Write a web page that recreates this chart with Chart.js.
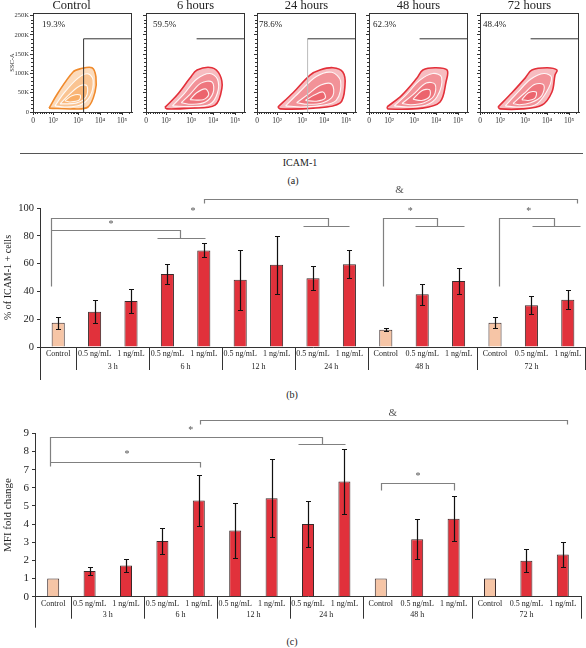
<!DOCTYPE html>
<html><head><meta charset="utf-8">
<script src="https://cdn.jsdelivr.net/npm/chart.js@4.4.1/dist/chart.umd.min.js"></script>
<style>
html,body{margin:0;padding:0;background:#fff;}
#root{position:relative;width:586px;height:648px;overflow:hidden;font-family:'Liberation Serif',serif;color:#222;}
canvas{position:absolute;}
.lbl{position:absolute;transform:translate(-50%,-50%);white-space:nowrap;line-height:1;}
.hline{position:absolute;height:0;border-top:1px solid #555;}
</style></head><body><div id="root">
<div class="hline" style="left:20px;top:153px;width:563px"></div>
<div class="lbl" style="left:300px;top:163px;font-size:10px">ICAM-1</div>
<div class="lbl" style="left:293px;top:181px;font-size:10px">(a)</div>
<div class="lbl" style="left:292px;top:395px;font-size:10px">(b)</div>
<div class="lbl" style="left:292px;top:642px;font-size:10px">(c)</div>
</div>
<script>
// ---------------- DATA ----------------
// Panel (a): flow cytometry contour plots (x: ICAM-1 decade position, y: SSC-A in K)
const flowTitles = ['Control', '6 hours', '24 hours', '48 hours', '72 hours'];
const flowPercents = ['19.3%', '59.5%', '78.6%', '62.3%', '48.4%'];
const flowXTickValues = [0, 0.91, 2.05, 3.05, 4.05];
const flowXTickLabels = ['0', '10²', '10³', '10⁴', '10⁵'];
const flowYTickValues = [0, 50, 100, 150, 200, 250];
const flowYTickLabels = ['0', '50K', '100K', '150K', '200K', '250K'];
const gateX = 2.3;
const gateY = 190;

const contoursControl = [
  [[0.73,10],[1.14,50],[1.82,104],[2.14,112],[2.68,115],[2.86,91],[2.82,52],[2.5,13],[1.82,8]],
  [[1.0,16],[1.45,52],[2.05,88],[2.5,99],[2.73,83],[2.6,42],[2.14,18],[1.45,13]],
  [[1.23,21],[1.68,47],[2.14,68],[2.45,68],[2.41,39],[1.95,23]],
  [[1.45,29],[1.77,42],[2.14,44],[2.1,31],[1.68,26]]
];
const contours6h = [
  [[0.86,12],[1.41,44],[2.0,88],[2.32,109],[3.0,115],[3.36,96],[3.45,62],[3.14,18],[2.0,10],[0.95,8]],
  [[1.2,16],[1.7,45],[2.3,85],[2.9,100],[3.25,85],[3.25,50],[2.9,20],[2.0,14]],
  [[1.6,24],[2.0,46],[2.5,75],[3.0,78],[3.05,50],[2.7,26],[2.1,20]],
  [[2.0,32],[2.3,50],[2.7,60],[2.85,45],[2.6,32]]
];
const contours24h = [
  [[0.95,13],[1.64,50],[2.41,96],[2.86,109],[3.45,115],[3.9,104],[4.0,70],[3.77,23],[2.55,10],[1.05,8]],
  [[1.3,16],[1.9,50],[2.7,92],[3.4,103],[3.8,80],[3.6,30],[2.8,16],[2.0,13]],
  [[1.8,24],[2.3,45],[2.9,70],[3.4,72],[3.45,42],[3.0,24],[2.3,20]],
  [[2.2,30],[2.6,44],[3.0,52],[3.1,36],[2.7,28]]
];
const contours48h = [
  [[0.82,13],[1.5,44],[2.18,88],[2.45,109],[3.0,115],[3.55,109],[3.5,78],[3.23,26],[2.41,10],[0.86,8]],
  [[1.15,16],[1.7,45],[2.3,82],[2.9,100],[3.3,90],[3.1,40],[2.6,18],[1.8,13]],
  [[1.5,22],[2.0,45],[2.6,75],[3.0,72],[2.95,42],[2.5,24],[1.9,19]],
  [[2.0,33],[2.4,55],[2.75,58],[2.75,40],[2.4,30]]
];
const contours72h = [
  [[0.82,13],[1.45,50],[2.05,88],[2.36,109],[3.05,115],[3.5,109],[3.41,96],[3.27,52],[2.82,18],[1.91,8],[0.91,8]],
  [[1.15,16],[1.7,50],[2.3,85],[2.9,100],[3.25,90],[3.0,50],[2.5,18],[1.7,13]],
  [[1.5,22],[2.0,48],[2.5,72],[2.9,70],[2.8,42],[2.3,24],[1.8,19]],
  [[1.9,32],[2.2,50],[2.55,52],[2.5,36],[2.2,30]]
];

// Panels (b) and (c): bar charts
const categories = ['Control','0.5 ng/mL','1 ng/mL','0.5 ng/mL','1 ng/mL','0.5 ng/mL','1 ng/mL',
  '0.5 ng/mL','1 ng/mL','Control','0.5 ng/mL','1 ng/mL','Control','0.5 ng/mL','1 ng/mL'];
const timeGroups = ['3 h','6 h','12 h','24 h','48 h','72 h'];
const timeGroupSizes = [2,2,2,2,3,3];
const icamPercent    = [17.5,25.4,33.1,52.5,69.5,48.4,59.2,49.5,59.5,12.5,38,47.5,17.5,30,34];
const icamPercentErr = [4.3,8.4,8.3,7.5,5,21.5,21,8.5,10,1.3,7.5,9.5,3.8,6.6,7];
const mfiFold        = [1,1.42,1.72,3.07,5.3,3.64,5.42,4.0,6.34,1,3.17,4.3,1,1.98,2.33];
const mfiFoldErr     = [0,0.22,0.38,0.7,1.42,1.5,2.15,1.25,1.8,0,1.1,1.22,0,0.63,0.68];

// ---------------- LAYOUT / STYLE ----------------
const FONT = "'Liberation Serif', serif";
Chart.defaults.font.family = FONT;
Chart.defaults.color = '#222';
Chart.defaults.animation = false;
const root = document.getElementById('root');
function mk(left, top, w, h) {
  const c = document.createElement('canvas');
  c.width = w; c.height = h;
  c.style.left = left + 'px'; c.style.top = top + 'px';
  c.style.width = w + 'px'; c.style.height = h + 'px';
  root.appendChild(c);
  return c;
}
const flowPlotLeft = [33, 146, 257, 369, 480];
const flowPctOffset = [9, 7, 2, 4, 3];
const flowTitleShift = [-11, 0, 0, 0, 0];
const gateVertical = ['#333', null, '#bbb', null, null];
const flowContours = [contoursControl, contours6h, contours24h, contours48h, contours72h];
const XMAX = 4.5, YMAX = 257;

const flowFramePlugin = {
  id: 'flowFrame',
  afterDraw(chart) {
    const o = chart.options.plugins.flowFrame;
    const ctx = chart.ctx, ca = chart.chartArea, xs = chart.scales.x, ys = chart.scales.y;
    ctx.save();
    ctx.strokeStyle = '#333'; ctx.lineWidth = 1;
    ctx.strokeRect(Math.round(ca.left) + 0.5, Math.round(ca.top) + 0.5, Math.round(ca.right - ca.left) - 1, Math.round(ca.bottom - ca.top));
    ctx.beginPath();
    const v = flowXTickValues;
    for (let k = 0; k < v.length; k++) {
      const a = v[k], b = (k + 1 < v.length) ? v[k + 1] : v[k] + (v[k] - v[k - 1]);
      for (let m = 2; m <= 9; m++) {
        const pos = (k === 0) ? a + (m - 1) / 9 * (b - a) : a + Math.log10(m) * (b - a);
        if (pos > XMAX) break;
        const px = Math.round(xs.getPixelForValue(pos)) + 0.5;
        ctx.moveTo(px, ca.bottom); ctx.lineTo(px, ca.bottom + 2);
      }
    }
    for (let yv = 10; yv < YMAX; yv += 10) {
      if (yv % 50 === 0) continue;
      const py = Math.round(ys.getPixelForValue(yv)) + 0.5;
      ctx.moveTo(ca.left, py); ctx.lineTo(ca.left - 2, py);
    }
    ctx.stroke();
    ctx.fillStyle = '#222';
    ctx.font = '12.5px ' + FONT; ctx.textAlign = 'center'; ctx.textBaseline = 'middle';
    ctx.fillText(o.title, (ca.left + ca.right) / 2 + o.shift, 6);
    ctx.font = '9px ' + FONT; ctx.textAlign = 'left';
    ctx.fillText(o.pct, ca.left + o.pctOff, ca.top + 12);
    ctx.restore();
  }
};

flowContours.forEach((cont, i) => {
  const L = flowPlotLeft[i], yW = i === 0 ? 33 : 6;
  const cv = mk(L - yW, 0, yW + 100, 135);
  const orange = i === 0;
  const datasets = cont.map((pts, k) => ({
    type: 'scatter',
    data: pts.concat([pts[0]]).map(p => ({ x: p[0], y: p[1] })),
    showLine: true, fill: 'shape',
    backgroundColor: orange ? 'rgba(246,160,80,0.38)' : 'rgba(232,70,80,0.36)',
    borderColor: k === 0 ? (orange ? '#f08a2c' : '#e3303a') : 'rgba(255,255,255,0.9)',
    borderWidth: k === 0 ? 1.6 : 1.1,
    pointRadius: 0, tension: 0.35, order: 10 - k
  }));
  datasets.push({ type: 'scatter', data: [{ x: gateX, y: gateY }, { x: XMAX, y: gateY }], showLine: true, fill: false,
    borderColor: '#333', borderWidth: 1, pointRadius: 0, order: 0 });
  if (gateVertical[i]) datasets.push({ type: 'scatter', data: [{ x: gateX, y: 0 }, { x: gateX, y: gateY }], showLine: true, fill: false,
    borderColor: gateVertical[i], borderWidth: 1, pointRadius: 0, order: 0 });
  new Chart(cv, {
    type: 'scatter',
    data: { datasets },
    options: {
      responsive: false, animation: false,
      layout: { padding: { top: 13, right: 1, left: 0, bottom: 0 } },
      plugins: { legend: { display: false }, tooltip: { enabled: false },
        flowFrame: { title: flowTitles[i], pct: flowPercents[i], pctOff: flowPctOffset[i], shift: flowTitleShift[i] } },
      scales: {
        x: { type: 'linear', min: 0, max: XMAX,
          afterBuildTicks: s => { s.ticks = flowXTickValues.map(v => ({ value: v })); },
          ticks: { callback: (v, idx) => flowXTickLabels[idx], font: { size: 7.5 }, color: '#333', padding: 2, maxRotation: 0, autoSkip: false },
          grid: { drawOnChartArea: false, tickLength: 3, color: '#333' }, border: { color: '#333' },
          afterFit: s => { s.height = 23; } },
        y: { type: 'linear', min: 0, max: YMAX,
          afterBuildTicks: s => { s.ticks = flowYTickValues.map(v => ({ value: v })); },
          ticks: { display: i === 0, callback: (v, idx) => flowYTickLabels[idx], font: { size: 6.5 }, color: '#333', padding: 1, autoSkip: false },
          grid: { drawOnChartArea: false, tickLength: 3, color: '#333' }, border: { color: '#333' },
          title: { display: i === 0, text: 'SSC-A', font: { size: 6.5 }, padding: { top: 8, bottom: 0 } },
          afterFit: s => { s.width = yW; } }
      }
    },
    plugins: [flowFramePlugin]
  });
});

// -------- bar charts --------
const barFill = categories.map(c => c === 'Control' ? '#f6c5a6' : '#e1313b');

const bracketsB = [
  [[4.0,103.6],[4.0,106.5],[14.25,106.5],[14.25,103.6]],
  [[-0.2,44],[-0.2,93],[7.41,93],[7.41,87.3]],
  [[6.73,87.3],[8.0,87.3]],
  [[-0.2,84.2],[3.35,84.2],[3.35,78.2]],
  [[2.71,78.2],[4.03,78.2]],
  [[8.92,44],[8.92,93],[10.41,93],[10.41,87.3]],
  [[9.8,87.3],[11.15,87.3]],
  [[12.1,44],[12.1,93],[13.62,93],[13.62,87.3]],
  [[13.02,87.3],[14.34,87.3]]
];
const marksB = [{t:'&',x:9.38,y:113},{t:'*',x:3.7,y:97.8},{t:'*',x:1.45,y:88},{t:'*',x:9.67,y:97.8},{t:'*',x:12.93,y:97.8}];
const bracketsC = [
  [[4.03,9.52],[4.03,9.74],[14.11,9.74],[14.11,9.52]],
  [[-0.09,7.2],[-0.09,8.82],[7.38,8.82],[7.38,8.4]],
  [[6.73,8.4],[8.02,8.4]],
  [[-0.09,7.44],[4.03,7.44],[4.03,7.16]],
  [[9.0,5.88],[9.0,6.25],[11.0,6.25],[11.0,5.88]]
];
const marksC = [{t:'&',x:9.33,y:10.12},{t:'*',x:3.78,y:9.18},{t:'*',x:2.03,y:7.86},{t:'*',x:10.02,y:6.65}];

function errorBarPlugin(errs) {
  return { id: 'errbars', afterDatasetsDraw(chart) {
    const ctx = chart.ctx, meta = chart.getDatasetMeta(0), ys = chart.scales.y, vals = chart.data.datasets[0].data;
    ctx.save(); ctx.strokeStyle = '#111'; ctx.lineWidth = 1.2;
    meta.data.forEach((bar, i) => {
      const e = errs[i]; if (!e) return;
      const x = Math.round(bar.x) + 0.5;
      const t = Math.round(ys.getPixelForValue(vals[i] + e)) + 0.5, b = Math.round(ys.getPixelForValue(vals[i] - e)) + 0.5;
      ctx.beginPath();
      ctx.moveTo(x, t); ctx.lineTo(x, b);
      ctx.moveTo(x - 2.5, t); ctx.lineTo(x + 2.5, t);
      ctx.moveTo(x - 2.5, b); ctx.lineTo(x + 2.5, b);
      ctx.stroke();
    });
    ctx.restore();
  } };
}
function bracketPlugin(brackets, marks) {
  return { id: 'brackets', afterDraw(chart) {
    const xs = chart.scales.x, ys = chart.scales.y, ctx = chart.ctx;
    ctx.save(); ctx.strokeStyle = '#808080'; ctx.lineWidth = 1.2;
    brackets.forEach(pts => {
      ctx.beginPath();
      pts.forEach(([i, v], k) => {
        const px = Math.round(xs.getPixelForValue(i)) + 0.5, py = Math.round(ys.getPixelForValue(v)) + 0.5;
        k ? ctx.lineTo(px, py) : ctx.moveTo(px, py);
      });
      ctx.stroke();
    });
    ctx.fillStyle = '#555'; ctx.textAlign = 'center'; ctx.textBaseline = 'middle';
    marks.forEach(m => {
      ctx.font = (m.t === '&' ? '11px ' : '10px ') + FONT;
      ctx.fillText(m.t, xs.getPixelForValue(m.x), ys.getPixelForValue(m.y));
    });
    ctx.restore();
  } };
}
function groupAxisPlugin(sepLen, extLen, labelDy) {
  return { id: 'groupAxis', afterDraw(chart) {
    const xs = chart.scales.x, ca = chart.chartArea, ctx = chart.ctx;
    ctx.save(); ctx.strokeStyle = '#333'; ctx.lineWidth = 1;
    let start = 1; const bounds = [0.5], centers = [];
    timeGroupSizes.forEach(n => { centers.push(start + (n - 1) / 2); start += n; bounds.push(start - 0.5); });
    ctx.beginPath();
    bounds.forEach(b => {
      const x = Math.min(Math.round(xs.getPixelForValue(b)) + 0.5, chart.width - 0.5);
      ctx.moveTo(x, ca.bottom); ctx.lineTo(x, ca.bottom + sepLen);
    });
    const lx = Math.round(ca.left) + 0.5;
    ctx.moveTo(lx, ca.bottom); ctx.lineTo(lx, ca.bottom + extLen);
    ctx.stroke();
    ctx.fillStyle = '#222'; ctx.font = '8px ' + FONT; ctx.textAlign = 'center'; ctx.textBaseline = 'middle';
    centers.forEach((c, k) => ctx.fillText(timeGroups[k], xs.getPixelForValue(c), ca.bottom + labelDy));
    ctx.restore();
  } };
}

function barChart(g) {
  const cv = mk(0, g.top, 586, g.height);
  new Chart(cv, {
    type: 'bar',
    data: { labels: categories, datasets: [{ data: g.values, backgroundColor: barFill, borderColor: '#3a2a2a', borderWidth: 1,
      categoryPercentage: 1, barPercentage: g.barPct }] },
    options: {
      responsive: false, animation: false,
      layout: { padding: { top: g.padTop, right: g.padRight, left: 0, bottom: 0 } },
      plugins: { legend: { display: false }, tooltip: { enabled: false } },
      scales: {
        x: { ticks: { font: { size: 8 }, color: '#222', padding: 2, maxRotation: 0, autoSkip: false },
          grid: { display: false, drawTicks: false }, border: { color: '#333' },
          afterFit: s => { s.height = g.xH; } },
        y: { min: 0, max: g.ymax, ticks: { stepSize: g.step, font: { size: g.tickFont }, color: '#222', padding: 3 },
          grid: { drawOnChartArea: false, tickLength: 3, color: '#333' }, border: { color: '#333' },
          title: { display: true, text: g.title, font: { size: g.titleFont }, color: '#222', padding: { top: 2, bottom: 0 } },
          afterFit: s => { s.width = g.yW; } }
      }
    },
    plugins: [errorBarPlugin(g.errs), bracketPlugin(g.brackets, g.marks), groupAxisPlugin(g.sepLen, g.extLen, g.labelDy)]
  });
}

barChart({ top: 180, height: 205, padTop: 28, padRight: 0, yW: 40, xH: 38, values: icamPercent, errs: icamPercentErr,
  ymax: 100, step: 10, tickFont: 10.5, title: '% of ICAM-1 + cells', titleFont: 10, barPct: 0.36,
  brackets: bracketsB, marks: marksB, sepLen: 23, extLen: 33, labelDy: 20 });
barChart({ top: 400, height: 235, padTop: 33.3, padRight: 5, yW: 35, xH: 38.3, values: mfiFold, errs: mfiFoldErr,
  ymax: 9, step: 1, tickFont: 11, title: 'MFI fold change', titleFont: 11, barPct: 0.33,
  brackets: bracketsC, marks: marksC, sepLen: 22, extLen: 31, labelDy: 18 });
</script>
</body></html>
